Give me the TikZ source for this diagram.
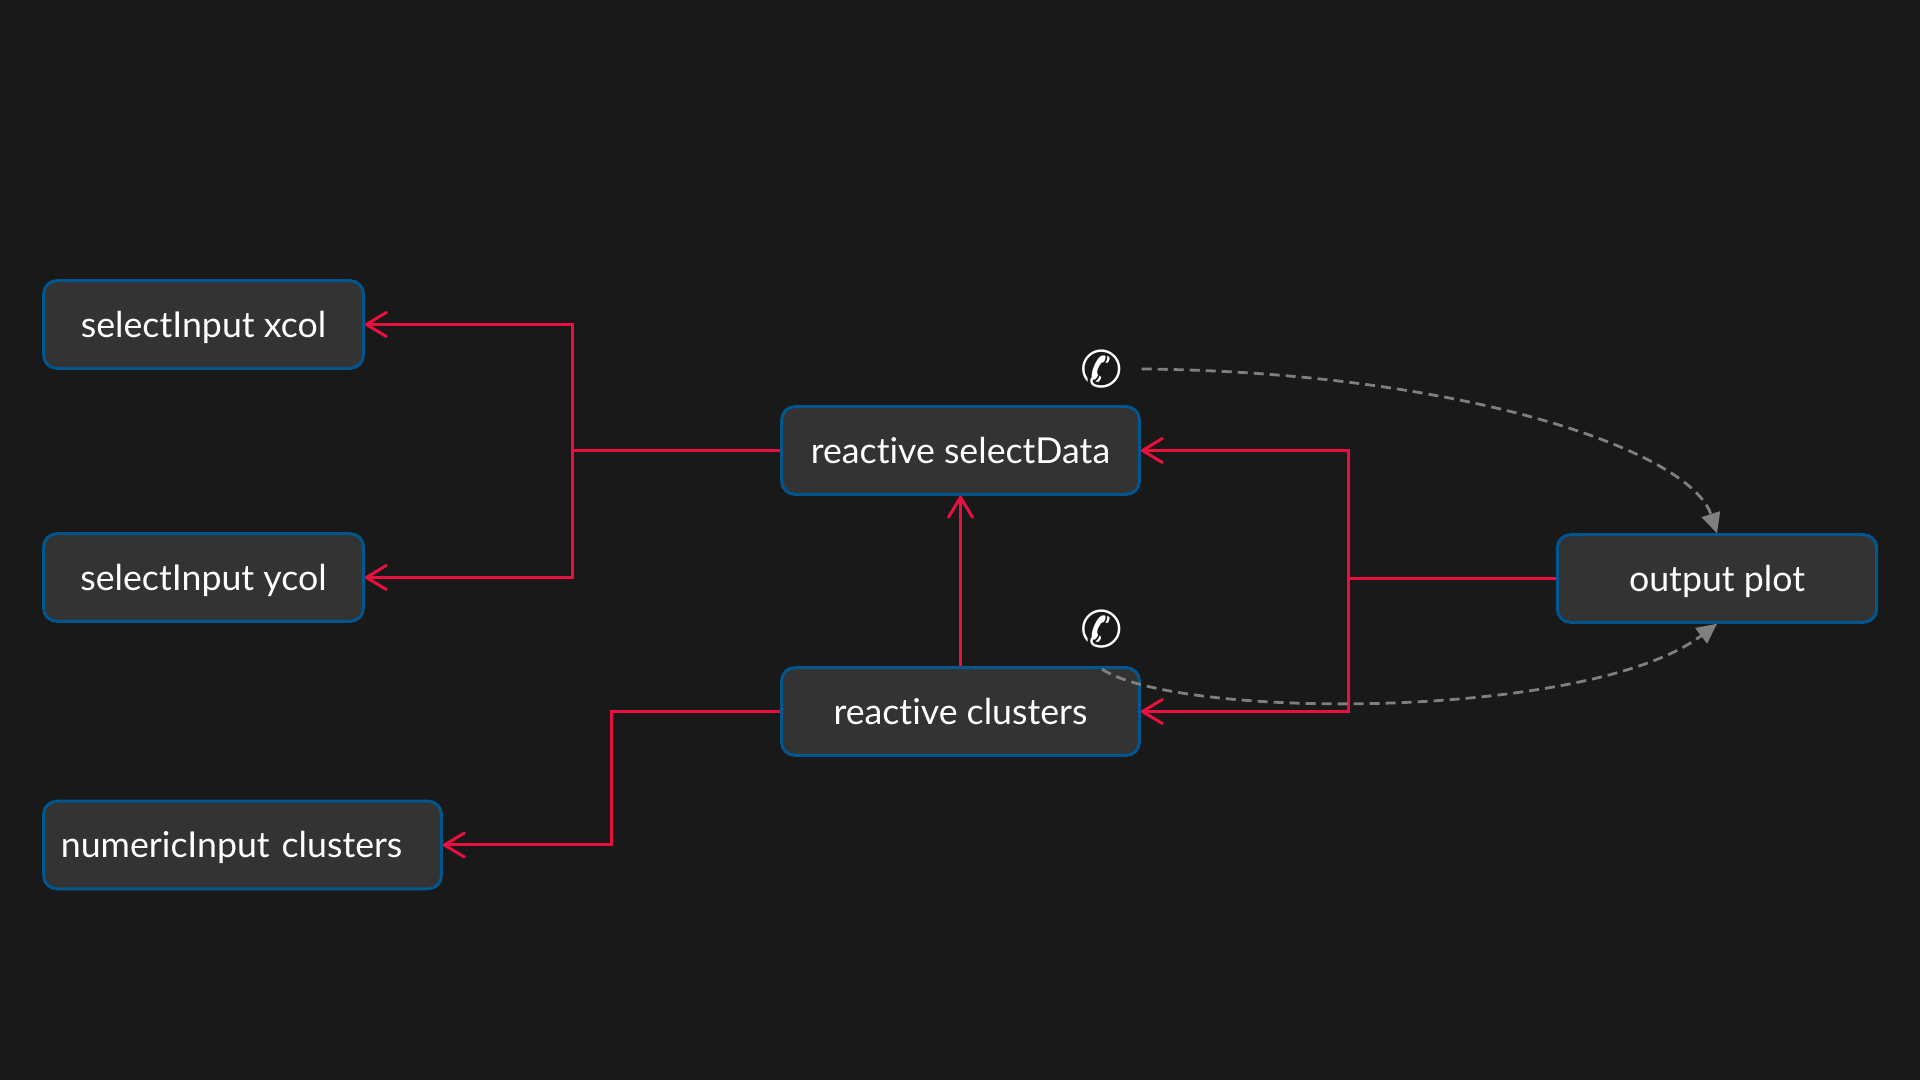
\documentclass[tikz,border=0pt]{standalone}
\usepackage{fontspec}
\setmainfont[Ligatures=NoCommon]{Lato}
\newfontfamily\symbfont{DejaVu Sans}
\usetikzlibrary{arrows.meta}
\definecolor{bgdark}{HTML}{191919}
\definecolor{boxfill}{HTML}{333333}
\definecolor{boxline}{HTML}{00568F}
\definecolor{callred}{HTML}{E8103F}
\definecolor{dashgray}{HTML}{7F7F7F}
\tikzset{
  block/.style={draw=boxline,fill=boxfill,line width=0.03cm,rounded corners=0.13cm,
    text=white,font=\fontsize{10.15}{12}\selectfont,minimum height=0.875cm,inner sep=0pt,
    text height=0.3cm,text depth=0.04cm,align=center},
  phone/.style={text=white,font=\symbfont\fontsize{14.4}{15}\selectfont,minimum size=0.78cm,inner sep=0pt},
  depends/.style={draw=callred,line width=0.03cm,-{Straight Barb[length=0.2cm,width=0.24cm,line width=0.03cm,round]}},
  plain/.style={draw=callred,line width=0.03cm},
  trigger/.style={draw=dashgray,line width=0.028cm,dash pattern=on 0.1cm off 0.06cm,
    -{Triangle[length=0.2cm,width=0.19cm,fill=dashgray]}}
}
\begin{document}
\begin{tikzpicture}[x=0.01cm,y=-0.01cm]
      \fill[bgdark] (0,0) rectangle (1920,1080);
      \draw
        (203.5,324.5) node[block,minimum width=3.195cm] (xcol){selectInput xcol}
        (203.5,577.5) node[block,minimum width=3.195cm] (ycol){selectInput ycol}
        (242.5,845) node[block,minimum width=3.975cm,text width=3.63cm,align=left] (numeric){numericInput clusters}
        (960.5,450.5) node[block,minimum width=3.575cm] (selectdata){reactive selectData}
        (960.5,711.5) node[block,minimum width=3.575cm] (clusters){reactive clusters}
        (1717,578.5) node[block,minimum width=3.19cm] (plot){output plot}
        (1102,369) node[phone] (phonea){✆}
        (1102,629.5) node[phone] (phoneb){✆};
      \coordinate (joinl) at (572.5,450.5);
      \coordinate (joinn) at (611,711.5);
      \coordinate (joinr) at (1348,578.5);
      \begin{scope}
        \draw[plain] (selectdata) to (joinl);
        \draw[depends] (joinl) |- (xcol.east);
        \draw[depends] (joinl) |- (ycol.east);
        \draw[depends] (clusters.north) to (selectdata.south);
        \draw[depends] (clusters.west) -- (joinn) |- (numeric.east);
        \draw[plain] (plot) to (joinr);
        \draw[depends] (joinr) |- (selectdata.east);
        \draw[depends] (joinr) |- (clusters.east);
      \end{scope}
      \begin{scope}
        \draw[trigger] (phonea.east) .. controls (1460,372) and (1690,450) .. (plot.north);
        \draw[trigger] (phoneb.south) .. controls (1180,720) and (1590,720) .. (plot.south);
      \end{scope}
    \end{tikzpicture}
\end{document}
